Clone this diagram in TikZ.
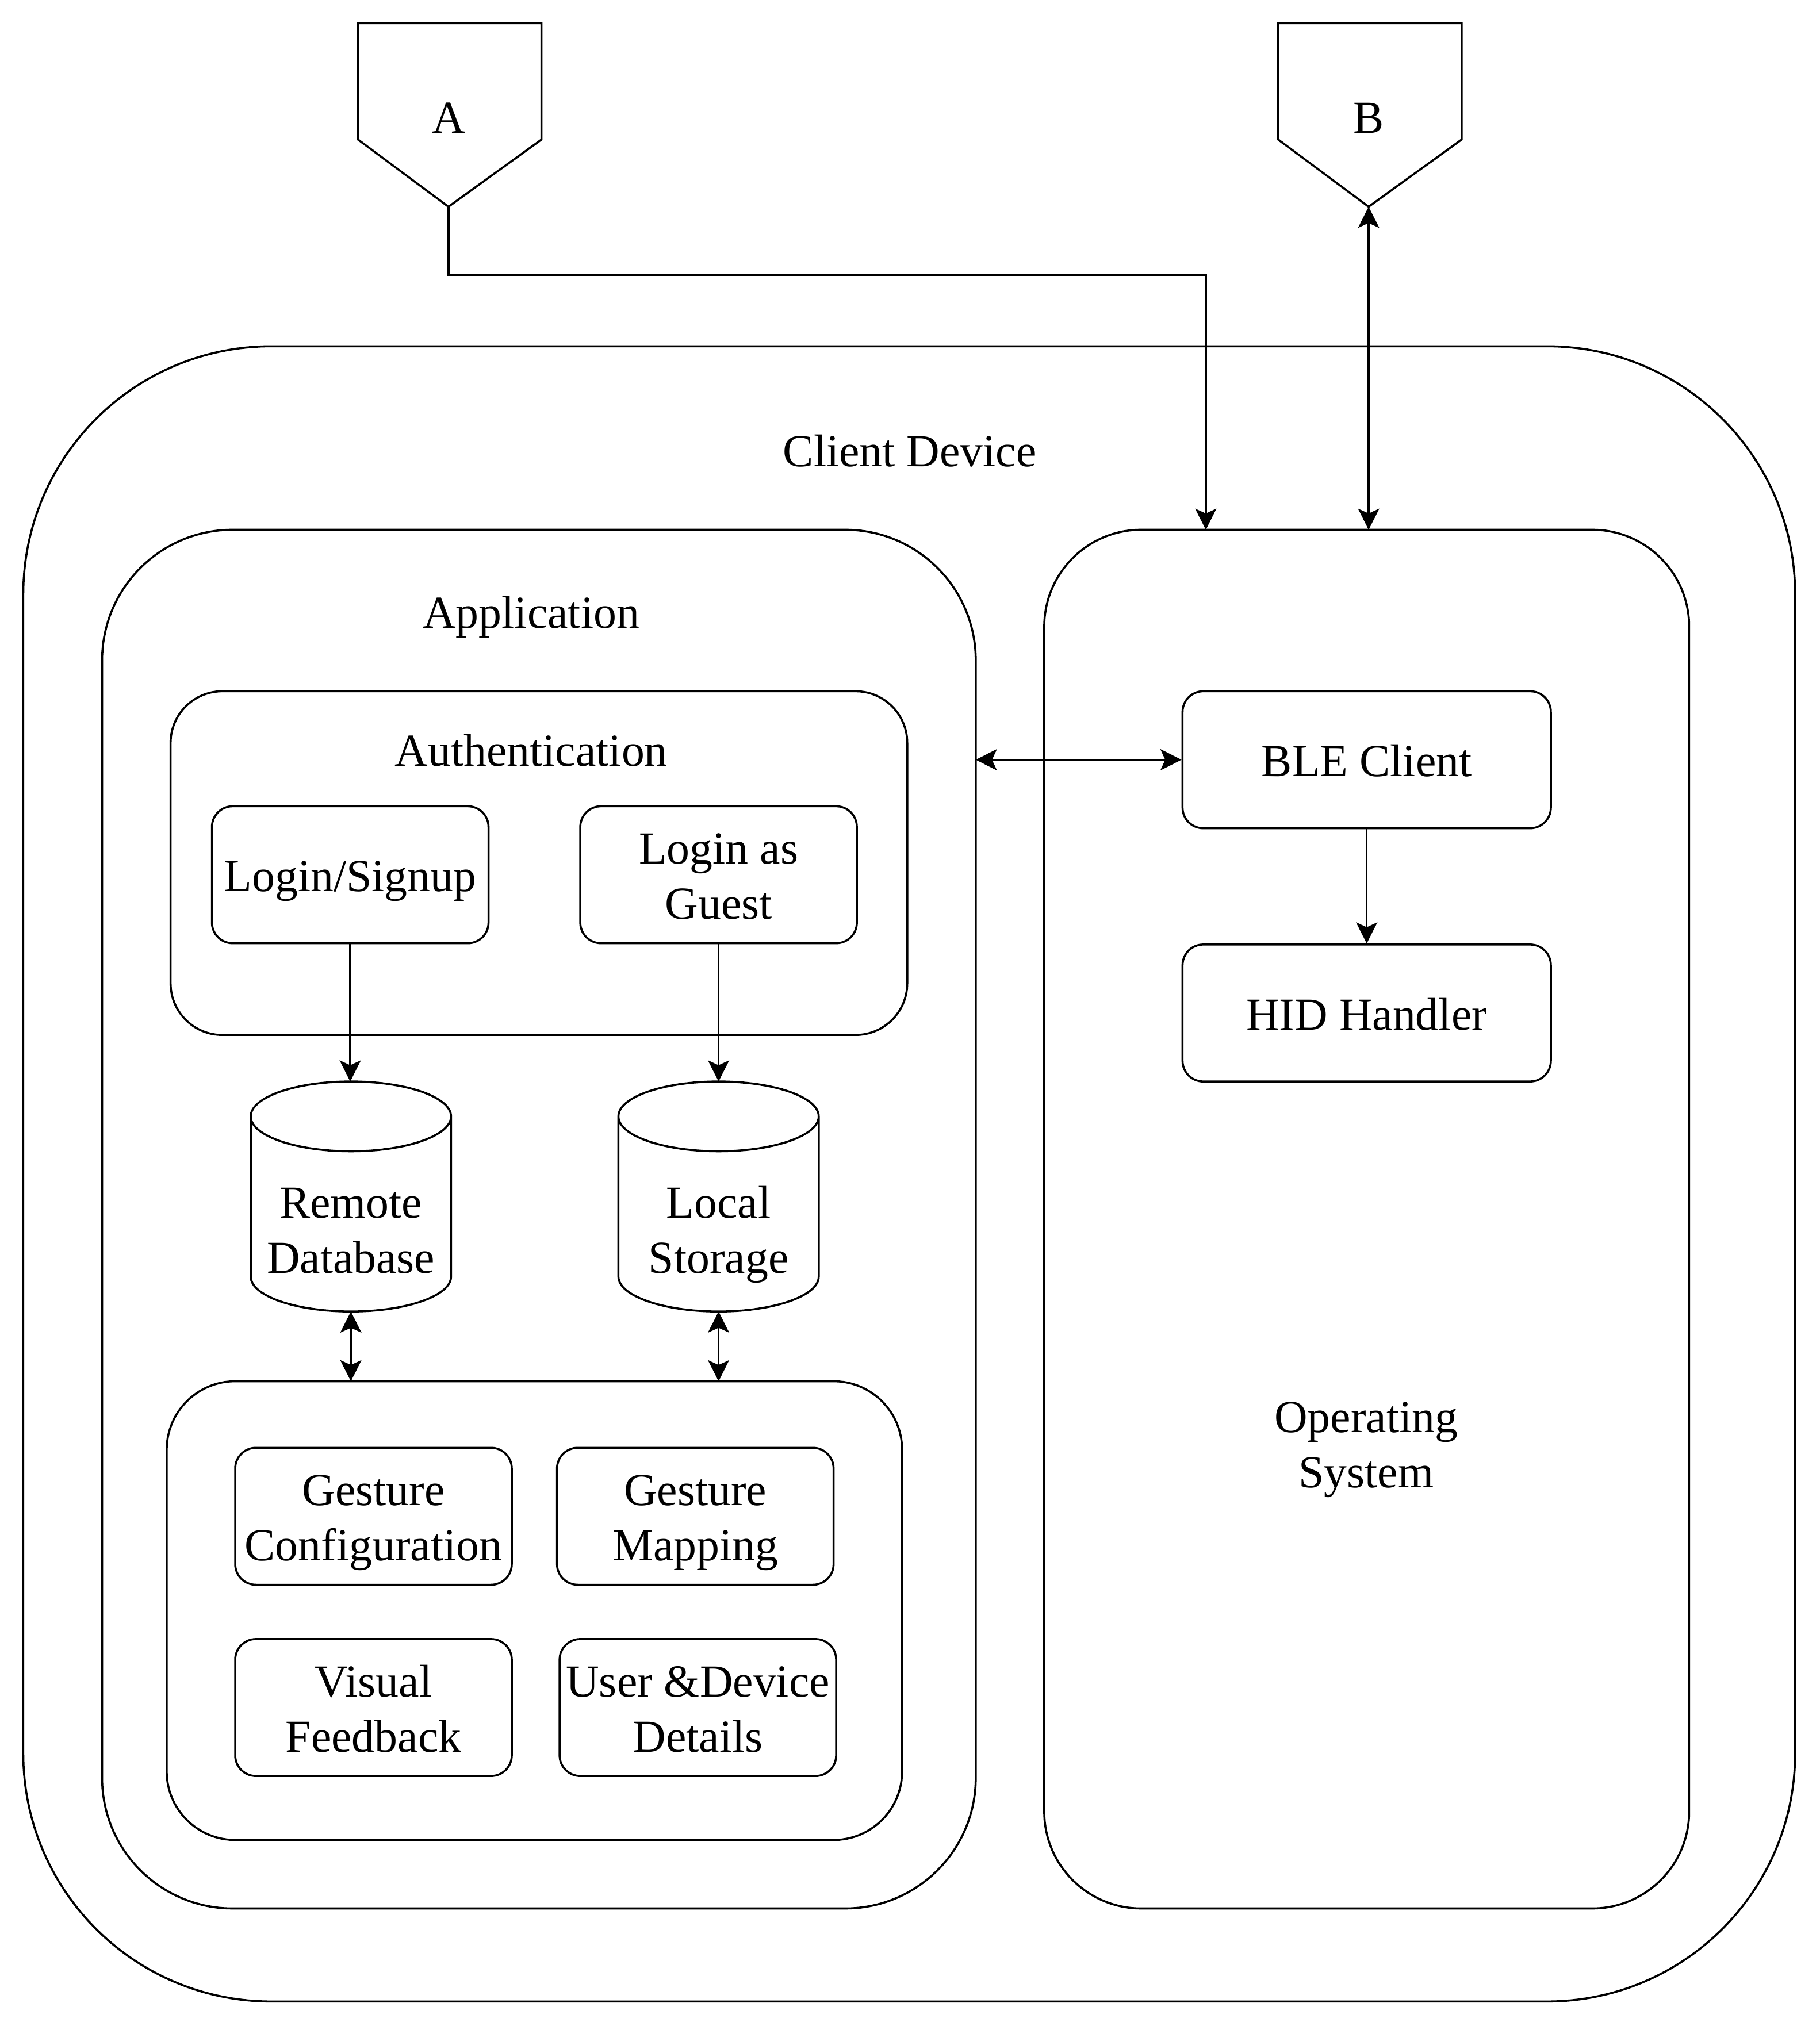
\documentclass[tikz,border=0pt]{standalone}
\usepackage{fontspec}
\setmainfont{Liberation Serif}
\usetikzlibrary{arrows.meta, positioning}

% struts so every label sits on the same line box
\newcommand{\topstrut}{\rule{0pt}{9.8pt}}
\newcommand{\botstrut}{\rule[-2.4pt]{0pt}{2.4pt}}

% outline of a database cylinder round a named node
\newcommand{\dbcyl}[1]{%
    \draw ([yshift=-2.7mm]#1.north west) -- ([yshift=2.7mm]#1.south west)
        arc[start angle=180, end angle=360, x radius=7.75mm, y radius=2.7mm]
        -- ([yshift=-2.7mm]#1.north east)
        arc[start angle=0, end angle=180, x radius=7.75mm, y radius=2.7mm]
        arc[start angle=180, end angle=360, x radius=7.75mm, y radius=2.7mm];}

\begin{document}
\begin{tikzpicture}[
        line width=0.45pt,
        every node/.style={font=\fontsize{10.1}{12.1}\selectfont, execute at begin node=\topstrut, execute at end node=\botstrut},
        frame/.style={draw, inner sep=0pt, outer sep=0pt},
        block/.style={draw, rounded corners=1.6mm, minimum width=2.14cm, minimum height=1.06cm, align=center, inner sep=0pt},
        db/.style={minimum width=1.55cm, minimum height=1.78cm, inner sep=0pt, outer sep=0pt},
        arr/.style={-{Stealth[length=1.63mm, width=1.63mm, inset=0.37mm]}},
        darr/.style={{Stealth[length=1.63mm, width=1.63mm, inset=0.37mm]}-{Stealth[length=1.63mm, width=1.63mm, inset=0.37mm]}}
    ]
        \useasboundingbox (0,0) rectangle (14.08,-15.68);

        % off-page connectors
        \draw (2.77,-0.18) -- (4.19,-0.18) -- (4.19,-1.08) -- (3.47,-1.60) -- (2.77,-1.08) -- cycle;
        \node (A) at (3.47,-0.90) {A};
        \coordinate (Atip) at (3.47,-1.60);
        \draw (9.89,-0.18) -- (11.31,-0.18) -- (11.31,-1.08) -- (10.59,-1.60) -- (9.89,-1.08) -- cycle;
        \node (B) at (10.59,-0.90) {B};
        \coordinate (Btip) at (10.59,-1.60);

        % containers
        \node[frame, rounded corners=1.92cm, minimum width=13.71cm, minimum height=12.81cm] (cdev) at (7.035,-9.085) {};
        \node (cdevlbl) at (7.04,-3.48) {Client Device};
        \node[frame, rounded corners=1.01cm, minimum width=6.76cm, minimum height=10.67cm] (app) at (4.17,-9.435) {};
        \node (applbl) at (4.11,-4.73) {Application};
        \node[frame, rounded corners=0.75cm, minimum width=4.99cm, minimum height=10.67cm] (os) at (10.575,-9.435) {};
        \node[align=center] (oslbl) at (10.57,-11.17) {\topstrut Operating\\System};
        \node[frame, rounded corners=0.40cm, minimum width=5.70cm, minimum height=2.66cm] (auth) at (4.17,-6.68) {};
        \node (authlbl) at (4.11,-5.80) {Authentication};
        \node[frame, rounded corners=0.53cm, minimum width=5.69cm, minimum height=3.55cm] (feat) at (4.135,-12.465) {};

        % authentication
        \node[block] (login) at (2.71,-6.77) {Login/Signup};
        \node[block] (guest) at (5.56,-6.77) {\topstrut Login as\\Guest};

        % storage
        \node[db] (rdb) at (2.715,-9.26) {};
        \dbcyl{rdb}
        \node[align=center] (rdblbl) at ([yshift=-2.5mm]rdb.center) {\topstrut Remote\\Database};
        \node[db] (lst) at (5.56,-9.26) {};
        \dbcyl{lst}
        \node[align=center] (lstlbl) at ([yshift=-2.5mm]lst.center) {\topstrut Local\\Storage};

        % features
        \node[block] (gconf) at (2.89,-11.735) {\topstrut Gesture\\Configuration};
        \node[block] (gmap) at (5.38,-11.735) {\topstrut Gesture\\Mapping};
        \node[block] (vfb) at (2.89,-13.215) {\topstrut Visual\\Feedback};
        \node[block] (udd) at (5.40,-13.215) {\topstrut User \&Device\\Details};

        % operating system
        \node[block, minimum width=2.85cm] (ble) at (10.575,-5.88) {BLE Client};
        \node[block, minimum width=2.85cm] (hid) at (10.575,-7.84) {HID Handler};

        % connectors
        \coordinate (osin) at (9.33,-4.10);
        \draw[arr] (Atip) -- ++(0,-0.53) -| (osin);
        \draw[darr] (Btip) -- (Btip |- os.north);
        \draw[darr] (app.east |- ble.west) -- (ble.west);
        \draw[arr] (ble) -- (hid);
        \draw[arr] (login.south) -- (login.south |- rdb.north);
        \draw[arr] (guest.south) -- (lst.north);
        \draw[darr] (rdb.south) -- (rdb.south |- feat.north);
        \draw[darr] (lst.south) -- (lst.south |- feat.north);
    \end{tikzpicture}
\end{document}
